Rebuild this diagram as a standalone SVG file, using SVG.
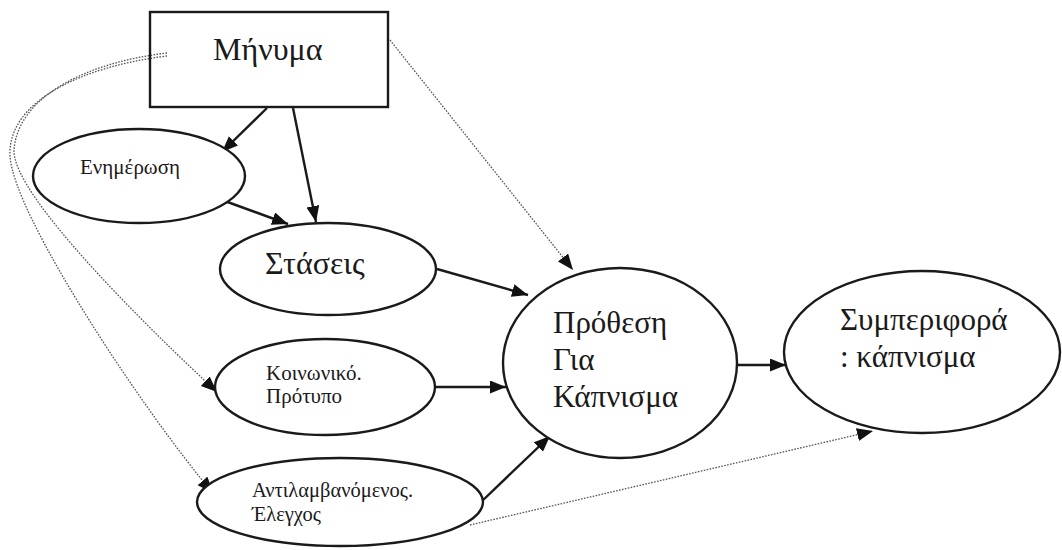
<svg xmlns="http://www.w3.org/2000/svg" width="1062" height="550" viewBox="0 0 1062 550">
<style>
.shape{fill:#fff;stroke:#1a1a1a;stroke-width:2.4}
.solid{fill:none;stroke:#1a1a1a;stroke-width:2.4}
.dot{fill:none;stroke:#555;stroke-width:1.3;stroke-dasharray:1.6 1.4}
text{font-family:"Liberation Serif","DejaVu Serif","Times New Roman",serif;fill:#1a1a1a}
.big{font-size:32px}
.mid{font-size:31px}
.sm{font-size:21px}
.xs{font-size:20.5px}
</style>
<defs>
<marker id="ah" markerUnits="userSpaceOnUse" markerWidth="18" markerHeight="14" refX="16" refY="6.5" orient="auto">
<path d="M0,0 L16,6.5 L0,13 z" fill="#111"/>
</marker>
</defs>
<rect width="1062" height="550" fill="#fff"/>
<g id="connectors">
<line class="solid" x1="267" y1="108" x2="222" y2="152" marker-end="url(#ah)"/>
<line class="solid" x1="293" y1="108" x2="316" y2="222" marker-end="url(#ah)"/>
<line class="solid" x1="222" y1="200" x2="288" y2="224" marker-end="url(#ah)"/>
<line class="solid" x1="437" y1="269" x2="528" y2="295" marker-end="url(#ah)"/>
<line class="solid" x1="435" y1="387" x2="506" y2="387" marker-end="url(#ah)"/>
<line class="solid" x1="480" y1="503" x2="550" y2="436" marker-end="url(#ah)"/>
<line class="solid" x1="737" y1="365" x2="786" y2="365" marker-end="url(#ah)"/>
<line class="dot" x1="390" y1="40" x2="573" y2="270" marker-end="url(#ah)"/>
<line class="dot" x1="470" y1="525" x2="873" y2="431" marker-end="url(#ah)"/>
<path class="dot" d="M167,53 C90,62 18,95 14,150 C12,195 150,330 217,392" marker-end="url(#ah)"/>
<path class="dot" d="M167,56 C85,66 8,100 10,155 C12,215 150,420 213,493" marker-end="url(#ah)"/>
</g>
<g id="minima">
<rect class="shape" x="150" y="12" width="238" height="95" fill-opacity="0"/>
<text class="big" x="213" y="60">Μήνυμα</text>
</g>
<g id="enimerosi">
<ellipse class="shape" cx="139" cy="176" rx="106" ry="47"/>
<text class="sm" x="80" y="174">Ενημέρωση</text>
</g>
<g id="staseis">
<ellipse class="shape" cx="328" cy="269" rx="108" ry="46"/>
<text class="big" x="265" y="274">Στάσεις</text>
</g>
<g id="koinoniko">
<ellipse class="shape" cx="325" cy="387" rx="110" ry="48"/>
<text class="sm" x="266" y="380">Κοινωνικό.</text>
<text class="sm" x="266" y="403">Πρότυπο</text>
</g>
<g id="antilamv">
<ellipse class="shape" cx="340" cy="502" rx="143" ry="44"/>
<text class="xs" x="252" y="497">Αντιλαμβανόμενος.</text>
<text class="xs" x="252" y="521">Έλεγχος</text>
</g>
<g id="prothesi">
<ellipse class="shape" cx="620" cy="363" rx="117" ry="95"/>
<text class="mid" x="553" y="333">Πρόθεση</text>
<text class="mid" x="553" y="370">Για</text>
<text class="mid" x="553" y="407">Κάπνισμα</text>
</g>
<g id="symperifora">
<ellipse class="shape" cx="922" cy="352" rx="138" ry="81"/>
<text class="mid" x="840" y="330">Συμπεριφορά</text>
<text class="mid" x="840" y="367">: κάπνισμα</text>
</g>
</svg>
